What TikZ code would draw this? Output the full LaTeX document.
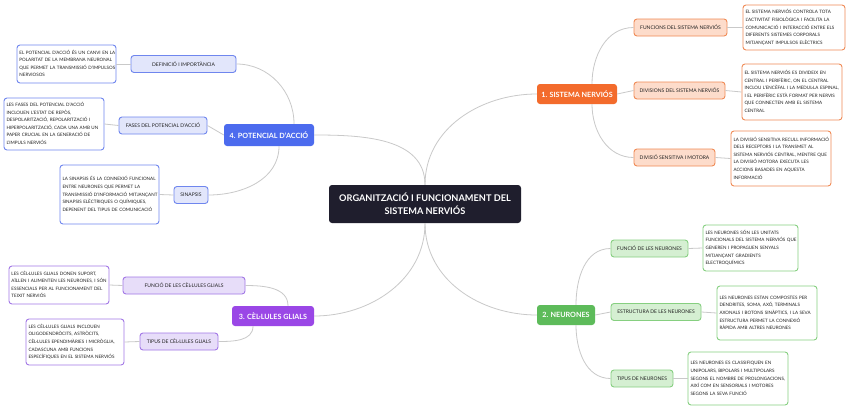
\documentclass[tikz,border=0pt]{standalone}
\usepackage{fontspec}
\setmainfont{Lato}
\definecolor{oM}{HTML}{F36B2C}\definecolor{oL}{HTML}{FDDCCB}\definecolor{oB}{HTML}{F08A55}
\definecolor{gM}{HTML}{5DBB5A}\definecolor{gL}{HTML}{D5EFD2}\definecolor{gB}{HTML}{86CF80}
\definecolor{pM}{HTML}{9A47E6}\definecolor{pL}{HTML}{E7DDF9}\definecolor{pB}{HTML}{A277E6}
\definecolor{bM}{HTML}{4C6BEE}\definecolor{bL}{HTML}{E2E6FB}\definecolor{bB}{HTML}{6F86EE}
\definecolor{darkc}{HTML}{1F1E2D}\definecolor{connc}{HTML}{C9C9C9}\definecolor{txt}{HTML}{222222}
\newcommand{\dlines}[1]{\begin{tabular}{@{}l@{}}#1\end{tabular}}
\tikzset{
  mainbox/.style={rounded corners=3pt, fill=#1, text=white, font=\fontsize{7.2}{8}\selectfont\bfseries, inner sep=0pt, minimum height=20pt},
  subbox/.style args={#1/#2}{rounded corners=3pt, draw=#2, fill=#1, line width=0.9pt, text=txt, font=\fontsize{5}{6}\selectfont, inner xsep=0pt, inner ysep=0pt, minimum height=17pt},
  descbox/.style={rounded corners=3pt, draw=#1, fill=white, line width=0.9pt, text=txt, font=\fontsize{4.55}{7.6}\selectfont, align=left, inner xsep=2.5pt, inner ysep=0pt},
  conn/.style={draw=connc, line width=0.8pt}
}
\begin{document}
\begin{tikzpicture}[x=1pt,y=-1pt]
\useasboundingbox[fill=white] (0,0) rectangle (848,410);
% central
\node[rounded corners=3pt, fill=darkc, text=white, font=\fontsize{9.2}{13.5}\selectfont\bfseries, align=center, minimum width=192pt, minimum height=38pt, inner sep=0pt] (c) at (425,204) {ORGANITZACIÓ I FUNCIONAMENT DEL\\SISTEMA NERVIÓS};
% main nodes
\node[mainbox=oM, minimum width=80pt] (sn) at (577,94) {1. SISTEMA NERVIÓS};
\node[mainbox=gM, minimum width=58pt] (ne) at (566,315) {2. NEURONES};
\node[mainbox=pM, minimum width=82pt] (cg) at (273,316) {3. CÈL·LULES GLIALS};
\node[mainbox=bM, minimum width=90pt, minimum height=22pt] (pa) at (269,135) {4. POTENCIAL D'ACCIÓ};
% sub nodes right
\node[subbox=oL/oB, minimum width=93pt] (s1) at (680.5,27.5) {FUNCIONS DEL SISTEMA NERVIÓS};
\node[subbox=oL/oB, minimum width=91pt] (s2) at (679.5,90.5) {DIVISIONS DEL SISTEMA NERVIÓS};
\node[subbox=oL/oB, minimum width=81pt] (s3) at (674.5,157.5) {DIVISIÓ SENSITIVA I MOTORA};
\node[subbox=gL/gB, minimum width=77pt] (s4) at (649.5,248.5) {FUNCIÓ DE LES NEURONES};
\node[subbox=gL/gB, minimum width=90pt] (s5) at (656,312) {ESTRUCTURA DE LES NEURONES};
\node[subbox=gL/gB, minimum width=62pt] (s6) at (642,378.5) {TIPUS DE NEURONES};
% sub nodes left
\node[subbox=bL/bB, minimum width=105pt] (s7) at (183.5,64) {DEFINICIÓ I IMPORTÀNCIA};
\node[subbox=bL/bB, minimum width=88pt] (s8) at (163,125.5) {FASES DEL POTENCIAL D'ACCIÓ};
\node[subbox=bL/bB, minimum width=34pt] (s9) at (191,195) {SINAPSIS};
\node[subbox=pL/pB, minimum width=122pt] (s10) at (184,285.5) {FUNCIÓ DE LES CÈL·LULES GLIALS};
\node[subbox=pL/pB, minimum width=78pt] (s11) at (179,341.5) {TIPUS DE CÈL·LULES GLIALS};
% descriptions right
\node[descbox=oB, text width=97pt, minimum height=45pt] (d1) at (794,27.5) {\dlines{EL SISTEMA NERVIÓS CONTROLA TOTA\\L'ACTIVITAT FISIOLÒGICA I FACILITA LA\\COMUNICACIÓ I INTERACCIÓ ENTRE ELS\\DIFERENTS SISTEMES CORPORALS\\MITJANÇANT IMPULSOS ELÈCTRICS}};
\node[descbox=oB, text width=95pt, minimum height=56pt] (d2) at (792,92) {\dlines{EL SISTEMA NERVIÓS ES DIVIDEIX EN\\CENTRAL I PERIFÈRIC, ON EL CENTRAL\\INCLOU L'ENCÈFAL I LA MEDUL·LA ESPINAL,\\I EL PERIFÈRIC ESTÀ FORMAT PER NERVIS\\QUE CONNECTEN AMB EL SISTEMA\\CENTRAL}};
\node[descbox=oB, text width=95pt, minimum height=55pt] (d3) at (781,158.5) {\dlines{LA DIVISIÓ SENSITIVA RECULL INFORMACIÓ\\DELS RECEPTORS I LA TRANSMET AL\\SISTEMA NERVIÓS CENTRAL, MENTRE QUE\\LA DIVISIÓ MOTORA EXECUTA LES\\ACCIONS BASADES EN AQUESTA\\INFORMACIÓ}};
\node[descbox=gB, text width=90pt, minimum height=46pt] (d4) at (750.5,248) {\dlines{LES NEURONES SÓN LES UNITATS\\FUNCIONALS DEL SISTEMA NERVIÓS QUE\\GENEREN I PROPAGUEN SENYALS\\MITJANÇANT GRADIENTS\\ELECTROQUÍMICS}};
\node[descbox=gB, text width=95pt, minimum height=54pt] (d5) at (767,313) {\dlines{LES NEURONES ESTAN COMPOSTES PER\\DENDRITES, SOMA, AXÓ, TERMINALS\\AXONALS I BOTONS SINÀPTICS, I LA SEVA\\ESTRUCTURA PERMET LA CONNEXIÓ\\RÀPIDA AMB ALTRES NEURONES}};
\node[descbox=gB, text width=95pt, minimum height=53pt] (d6) at (738,378.5) {\dlines{LES NEURONES ES CLASSIFIQUEN EN\\UNIPOLARS, BIPOLARS I MULTIPOLARS\\SEGONS EL NOMBRE DE PROLONGACIONS,\\AIXÍ COM EN SENSORIALS I MOTORES\\SEGONS LA SEVA FUNCIÓ}};
% descriptions left
\node[descbox=bB, text width=94pt, minimum height=38pt] (d7) at (66.5,64) {\dlines{EL POTENCIAL D'ACCIÓ ÉS UN CANVI EN LA\\POLARITAT DE LA MEMBRANA NEURONAL\\QUE PERMET LA TRANSMISSIÓ D'IMPULSOS\\NERVIOSOS}};
\node[descbox=bB, text width=95pt, minimum height=52pt] (d8) at (54,124) {\dlines{LES FASES DEL POTENCIAL D'ACCIÓ\\INCLOUEN L'ESTAT DE REPÒS,\\DESPOLARITZACIÓ, REPOLARITZACIÓ I\\HIPERPOLARITZACIÓ, CADA UNA AMB UN\\PAPER CRUCIAL EN LA GENERACIÓ DE\\L'IMPULS NERVIÓS}};
\node[descbox=bB, text width=94pt, minimum height=59pt] (d9) at (109.5,194.5) {\dlines{LA SINAPSIS ÉS LA CONNEXIÓ FUNCIONAL\\ENTRE NEURONES QUE PERMET LA\\TRANSMISSIÓ D'INFORMACIÓ MITJANÇANT\\SINAPSIS ELÈCTRIQUES O QUÍMIQUES,\\DEPENENT DEL TIPUS DE COMUNICACIÓ}};
\node[descbox=pB, text width=95pt, minimum height=38pt] (d10) at (59,285) {\dlines{LES CÈL·LULES GLIALS DONEN SUPORT,\\AÏLLEN I ALIMENTEN LES NEURONES, I SÓN\\ESSENCIALS PER AL FUNCIONAMENT DEL\\TEIXIT NERVIÓS}};
\node[descbox=pB, text width=93pt, minimum height=46pt] (d11) at (75,342) {\dlines{LES CÈL·LULES GLIALS INCLOUEN\\OLIGODENDRÒCITS, ASTRÒCITS,\\CÈL·LULES EPENDIMÀRIES I MICRÒGLIA,\\CADASCUNA AMB FUNCIONS\\ESPECÍFIQUES EN EL SISTEMA NERVIÓS}};
% connectors
\path[conn] (c.north) to[out=90,in=180] (sn.west);
\path[conn] (c.north) to[out=90,in=0] (pa.east);
\path[conn] (c.south) to[out=-90,in=180] (ne.west);
\path[conn] (c.south) to[out=-90,in=0] (cg.east);
\path[conn] ([xshift=15pt]sn.north) to[out=90,in=180] (s1.west);
\path[conn] (sn.east) -- (s2.west);
\path[conn] ([xshift=15pt]sn.south) to[out=-90,in=180] (s3.west);
\path[conn] ([xshift=10pt]ne.north) to[out=90,in=180] (s4.west);
\path[conn] (ne.east) -- (s5.west);
\path[conn] ([xshift=10pt]ne.south) to[out=-90,in=180] (s6.west);
\path[conn] ([xshift=25pt]pa.north) to[out=90,in=0] (s7.east);
\path[conn] (pa.west) -- (s8.east);
\path[conn] ([xshift=10pt]pa.south) to[out=-90,in=0] (s9.east);
\path[conn] ([xshift=15pt]cg.north) to[out=90,in=0] (s10.east);
\path[conn] ([xshift=-20pt]cg.south) to[out=-90,in=0] (s11.east);
\path[conn] (s1.east) -- (d1.west);
\path[conn] (s2.east) -- (d2.west);
\path[conn] (s3.east) -- (d3.west);
\path[conn] (s4.east) -- (d4.west);
\path[conn] (s5.east) -- (d5.west);
\path[conn] (s6.east) -- (d6.west);
\path[conn] (s7.west) -- (d7.east);
\path[conn] (s8.west) -- (d8.east);
\path[conn] (s9.west) -- (d9.east);
\path[conn] (s10.west) -- (d10.east);
\path[conn] (s11.west) -- (d11.east);
\end{tikzpicture}
\end{document}
